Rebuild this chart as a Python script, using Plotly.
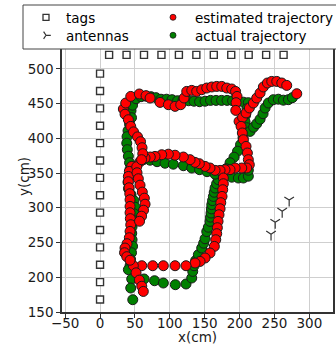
import plotly.graph_objects as go

# ---------------- data ----------------
tag_col_x = [0] * 14
tag_col_y = [168, 193, 218, 243, 268, 293, 318, 343, 368, 393, 418, 443, 468, 493]
tag_row_x = [13, 38, 63, 88, 113, 138, 163, 188, 213, 238, 263]
tag_row_y = [520] * 11

antenna_x = [245, 251, 261, 271]
antenna_y = [262, 279, 295, 311]

est_x = [
    33.4, 35.8, 36.8, 44.0, 56.3, 65.9, 71.7, 86.0, 97.9, 107.5, 115.6, 120.4, 124.2, 131.4, 138.5,
    145.7, 152.9, 160.1, 167.2, 174.4, 181.6, 188.7, 194.2, 196.3, 194.9, 194.5,
    199.2, 204.2, 209.2, 214.0, 219.7, 224.5, 229.3, 234.0, 239.8, 246.0, 253.2, 260.4, 267.5, 281.9,
    202.1, 203.9, 205.4, 209.2, 211.1, 212.5, 213.9, 210.2,
    203.1, 193.5, 186.3, 179.1, 172.0, 164.8, 157.6, 150.5, 142.3, 136.1, 129.0, 119.4, 107.5, 97.9,
    88.4, 78.8, 72.0, 64.5, 57.3,
    176.7, 176.7, 175.8, 174.8, 173.0, 172.0, 170.5, 169.1, 168.1, 167.2, 165.8, 163.8, 157.6, 150.5,
    143.3, 136.1,
    123.2, 107.5, 90.7, 75.5, 59.8, 47.7,
    51.6, 56.3, 59.8, 62.0,
    45.4, 42.0, 40.6, 40.6, 41.6, 42.6, 43.0, 43.0, 43.0, 43.4, 44.0, 43.0, 42.0, 38.7, 35.8, 35.1,
    38.3, 43.0,
    52.6, 53.0, 54.9, 57.3, 60.6, 63.5, 64.5, 62.3, 59.5, 56.6,
    40.6, 44.0, 48.0, 53.7, 58.0, 60.2, 61.2, 59.5,
]
est_y = [
    442.1, 434.6, 450.7, 460.2, 463.7, 461.3, 457.9, 451.6, 448.3, 445.9, 448.3, 457.9, 467.4, 468.9, 467.4,
    469.9, 472.3, 473.8, 474.6, 474.6, 472.3, 470.9, 467.4, 460.2, 451.2, 440.1,
    424.3, 430.1, 436.4, 443.6, 450.7, 457.9, 465.1, 473.8, 479.5, 481.8, 481.8, 479.5, 476.1, 464.1,
    417.1, 407.6, 397.9, 388.3, 378.8, 369.2, 362.0, 357.2,
    357.2, 357.2, 354.8, 354.8, 353.8, 353.8, 357.2, 359.5, 363.4, 365.3, 369.2, 373.0, 375.6, 377.1,
    376.3, 373.9, 373.0, 371.6, 366.3,
    342.8, 334.6, 326.0, 316.3, 307.3, 298.6, 290.0, 280.4, 271.3, 262.7, 254.0, 244.4, 234.9, 227.7,
    222.8, 220.5,
    216.6, 216.6, 216.6, 216.6, 216.6, 216.6,
    206.4, 195.9, 187.1, 179.6,
    359.5, 352.3, 345.1, 337.5, 328.8, 320.2, 311.6, 302.0, 292.9, 284.3, 275.6, 266.0, 256.9, 248.3, 242.1, 235.3,
    229.6, 224.5,
    359.1, 350.4, 341.8, 332.5, 322.5, 313.8, 305.1, 296.5, 287.9, 280.6,
    426.7, 417.1, 409.2, 402.0, 395.1, 386.4, 377.8, 369.2,
]

act_x = [
    44.4, 45.1, 42.3, 40.1, 38.7, 38.3, 39.1, 40.6, 42.3, 43.0, 41.6, 40.1, 40.8, 44.4, 48.7, 50.2,
    48.7, 47.3, 45.9, 45.4, 45.9, 46.6, 45.1, 43.7, 43.0, 40.6, 45.4, 44.0, 46.9,
    63.1, 78.1, 90.7, 107.9, 123.2, 131.4, 132.8,
    134.7, 137.0, 140.9, 145.7, 148.5, 150.5, 152.9, 155.2, 157.6, 158.3, 159.1, 159.6, 160.1, 161.2,
    162.4, 163.6, 164.8, 167.0, 169.5,
    62.0, 71.7, 81.7, 93.1, 105.0, 119.4, 131.4, 142.6, 153.3, 164.8, 176.7, 188.7, 198.2, 205.4,
    212.5, 212.5,
    46.6, 51.6, 58.8, 65.9, 73.1, 80.2, 87.4, 95.3, 103.2, 111.1, 118.9, 126.8, 134.7, 142.6, 150.5,
    158.3, 166.2, 174.1, 182.0, 189.9, 197.8, 205.6, 212.5,
    210.6, 208.5, 207.8, 209.9, 215.0, 220.0, 224.5, 229.3, 233.6, 236.5, 241.2, 248.3, 255.5, 262.7,
    269.8, 275.6,
    204.9, 201.3, 197.0, 192.0, 186.3, 180.6,
]
act_y = [
    439.7, 429.6, 420.2, 410.9, 402.3, 392.9, 383.6, 374.2, 364.8, 355.5, 345.9, 336.6, 327.4, 318.8, 310.2, 300.8,
    291.4, 282.1, 272.8, 263.4, 254.0, 244.7, 235.3, 225.9, 216.6, 210.9, 197.5, 184.5, 167.7,
    197.5, 195.0, 191.7, 189.3, 190.3, 198.9, 208.4,
    216.6, 224.0, 232.5, 242.1, 249.0, 255.4, 265.7, 272.0, 280.4, 286.5, 292.4, 298.4, 304.4, 310.3,
    316.3, 322.3, 328.4, 334.5, 340.4,
    369.2, 368.4, 366.3, 364.1, 362.7, 360.5, 357.2, 354.8, 351.9, 348.3, 347.6, 344.0, 342.8, 342.8,
    345.4, 354.0,
    447.6, 456.9, 459.8, 460.5, 459.8, 458.4, 456.2, 456.2, 455.5, 454.0, 454.8, 454.0, 453.3, 452.6, 453.3,
    454.5, 454.5, 454.5, 454.5, 454.0, 453.3, 451.9, 451.2,
    442.6, 433.2, 423.8, 415.2, 409.9, 415.9, 421.0, 427.4, 435.3, 443.5, 450.7, 455.5, 456.2, 454.8,
    455.5, 458.4,
    400.8, 390.7, 381.4, 372.8, 364.8, 356.2,
]

x_ticks = [-50, 0, 50, 100, 150, 200, 250, 300]
y_ticks = [150, 200, 250, 300, 350, 400, 450, 500]

# ---------------- layout helpers ----------------
W, H = 336, 345
ML, MR, MT, MB = 62, 3, 45, 33
PW, PH = W - ML - MR, H - MT - MB


def px_x(p):
    return (p - ML) / PW


def px_y(p):
    return (H - MB - p) / PH


FONT = "DejaVu Sans"
FS = 13.5
RED = "#ff0000"
GREEN = "#008000"
EDGE = "#1a1a1a"
DARK = "#333333"

fig = go.Figure()

fig.add_trace(go.Scatter(
    x=tag_col_x + tag_row_x, y=tag_col_y + tag_row_y, mode="markers",
    marker=dict(symbol="square", size=7, color="white", line=dict(color=DARK, width=1.4)),
    showlegend=False, hoverinfo="skip"))
fig.add_trace(go.Scatter(
    x=antenna_x, y=antenna_y, mode="markers",
    marker=dict(symbol="y-down", size=8, color=DARK, line=dict(color=DARK, width=1.2)),
    showlegend=False, hoverinfo="skip"))
fig.add_trace(go.Scatter(
    x=act_x, y=act_y, mode="markers",
    marker=dict(symbol="circle", size=10, color=GREEN, line=dict(color=EDGE, width=1)),
    showlegend=False))
fig.add_trace(go.Scatter(
    x=est_x, y=est_y, mode="markers",
    marker=dict(symbol="circle", size=10, color=RED, line=dict(color=EDGE, width=1)),
    showlegend=False))

# legend-only entries, one legend box per entry so each is placed exactly
fig.add_trace(go.Scatter(x=[None], y=[None], mode="markers", name="tags", legend="legend",
                         marker=dict(symbol="square", size=6, color="white", line=dict(color=DARK, width=1.3))))
fig.add_trace(go.Scatter(x=[None], y=[None], mode="markers", name="antennas", legend="legend2",
                         marker=dict(symbol="y-right", size=6, color=DARK, line=dict(color=DARK, width=1.2))))
fig.add_trace(go.Scatter(x=[None], y=[None], mode="markers", name="estimated trajectory", legend="legend3",
                         marker=dict(symbol="circle", size=6, color=RED, line=dict(color=EDGE, width=0.8))))
fig.add_trace(go.Scatter(x=[None], y=[None], mode="markers", name="actual trajectory", legend="legend4",
                         marker=dict(symbol="circle", size=6, color=GREEN, line=dict(color=EDGE, width=0.8))))


def leg(xpx, ypx, iw):
    return dict(x=px_x(xpx), xanchor="left", y=px_y(ypx), yanchor="top",
                bgcolor="rgba(0,0,0,0)", borderwidth=0, itemwidth=iw,
                font=dict(family=FONT, size=FS, color="#000"))


axis_common = dict(
    showgrid=True, gridcolor="#cfcfcf", gridwidth=1, zeroline=False,
    showline=True, linecolor=DARK, linewidth=1.5, mirror=True,
    ticks="outside", ticklen=4, tickcolor=DARK, tickwidth=1,
    tickfont=dict(family=FONT, size=FS, color="#1a1a1a"),
)

fig.update_layout(
    width=W, height=H,
    margin=dict(l=ML, r=MR, t=MT, b=MB, autoexpand=False),
    paper_bgcolor="white", plot_bgcolor="white",
    font=dict(family=FONT, size=FS, color="#1a1a1a"),
    xaxis=dict(range=[-54.5, 333.8], tickvals=x_ticks, ticklabelstandoff=-6, **axis_common),
    yaxis=dict(range=[150, 534.2], tickvals=y_ticks, **axis_common),
    legend=leg(26, 2, 30),
    legend2=leg(26, 20, 30),
    legend3=leg(151, 2, 34),
    legend4=leg(151, 20, 34),
    shapes=[dict(type="rect", xref="paper", yref="paper", layer="above",
                 x0=px_x(23), x1=px_x(345), y0=px_y(49), y1=px_y(5),
                 fillcolor="white", line=dict(color="#444", width=1))],
    annotations=[
        dict(text="x(cm)", xref="paper", yref="paper", x=px_x(197), y=px_y(337),
             xanchor="center", yanchor="middle", showarrow=False,
             font=dict(family=FONT, size=FS, color="#1a1a1a")),
        dict(text="y(cm)", xref="paper", yref="paper", x=px_x(24), y=px_y(177),
             xanchor="center", yanchor="middle", showarrow=False, textangle=-90,
             font=dict(family=FONT, size=FS, color="#1a1a1a")),
    ],
    showlegend=True,
)

fig.write_html("out.html", config={"displayModeBar": False},
               post_script="document.body.style.margin='0';document.body.style.overflow='hidden';")
